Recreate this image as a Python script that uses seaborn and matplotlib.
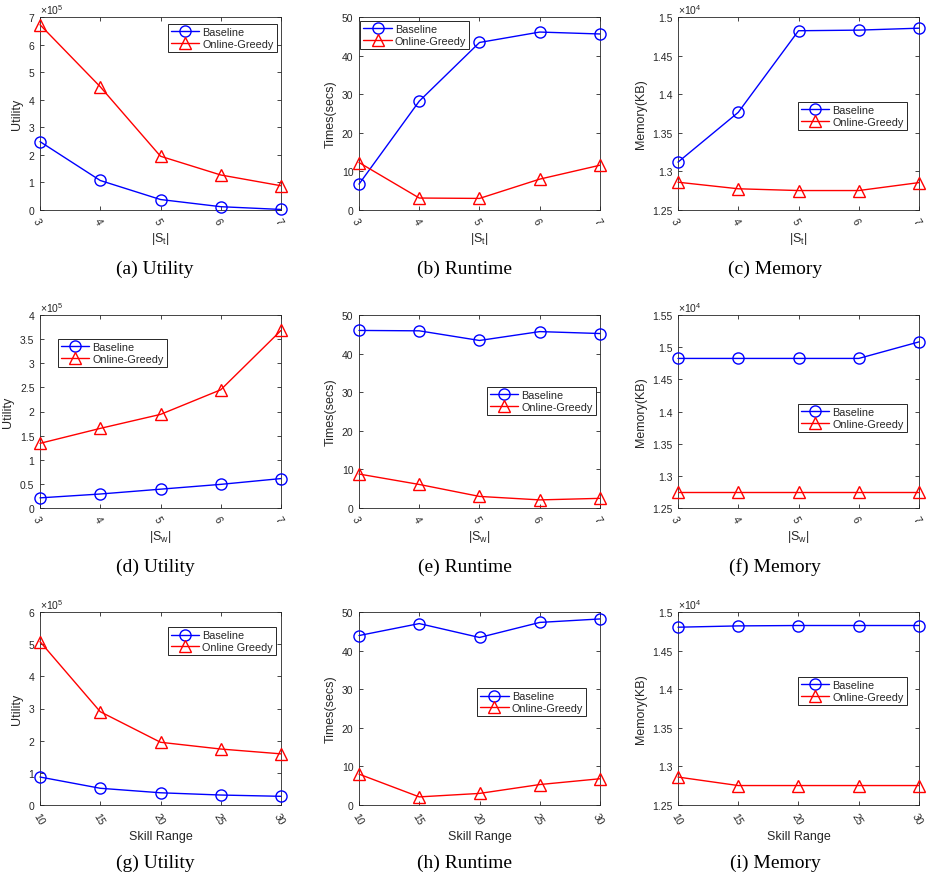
import numpy as np
import pandas as pd
import matplotlib
matplotlib.use("Agg")
import matplotlib.pyplot as plt
import seaborn as sns
from matplotlib.ticker import FuncFormatter, FixedLocator

# ---------------- data ----------------
x_st = [3, 4, 5, 6, 7]
x_sw = [3, 4, 5, 6, 7]
x_skill = [10, 15, 20, 25, 30]

# Row 1 : |S_t|
util_st_base = [2.48e5, 1.07e5, 0.38e5, 0.12e5, 0.02e5]
util_st_og = [6.72e5, 4.47e5, 1.95e5, 1.27e5, 0.88e5]
time_st_base = [6.7, 28.2, 43.4, 46.1, 45.6]
time_st_og = [12.3, 3.1, 3.0, 8.0, 11.6]
mem_st_base = [13120, 13765, 14822, 14830, 14855]
mem_st_og = [12860, 12775, 12752, 12752, 12855]

# Row 2 : |S_w|
util_sw_base = [0.21e5, 0.29e5, 0.39e5, 0.49e5, 0.61e5]
util_sw_og = [1.34e5, 1.65e5, 1.94e5, 2.45e5, 3.68e5]
time_sw_base = [46.0, 45.9, 43.4, 45.7, 45.2]
time_sw_og = [8.8, 6.1, 3.0, 2.1, 2.5]
mem_sw_base = [14825, 14825, 14825, 14825, 15082]
mem_sw_og = [12755, 12755, 12755, 12755, 12755]

# Row 3 : Skill range
util_sk_base = [0.87e5, 0.52e5, 0.38e5, 0.31e5, 0.27e5]
util_sk_og = [5.08e5, 2.90e5, 1.95e5, 1.74e5, 1.59e5]
time_sk_base = [43.9, 47.0, 43.4, 47.3, 48.2]
time_sk_og = [8.0, 2.1, 3.0, 5.3, 6.8]
mem_sk_base = [14803, 14820, 14825, 14825, 14825]
mem_sk_og = [12862, 12752, 12752, 12752, 12752]

methods = ["Baseline", "Online-Greedy"]
methods_g = ["Baseline", "Online Greedy"]

captions = ["(a) Utility", "(b) Runtime", "(c) Memory",
            "(d) Utility", "(e) Runtime", "(f) Memory",
            "(g) Utility", "(h) Runtime", "(i) Memory"]
ylabels = ["Utility", "Times(secs)", "Memory(KB)"]
xlabels = [r"|S$_{\mathregular{t}}$|", r"|S$_{\mathregular{w}}$|", "Skill Range"]

# ---------------- style ----------------
sns.set_style("ticks")
plt.rcParams["font.family"] = ["Liberation Sans", "DejaVu Sans"]
plt.rcParams["mathtext.fontset"] = "custom"
plt.rcParams["mathtext.rm"] = "Liberation Sans"
plt.rcParams["mathtext.it"] = "Liberation Sans:italic"

W, H = 929, 879
fig = plt.figure(figsize=(W / 100, H / 100), dpi=100)

lefts = [40, 359, 678]
tops = [18, 316, 613]
aw, ah = 241, 193

panels = [
    # (x, base, og, row, col, ylim, yticks, scale, legend anchor)
    (x_st, util_st_base, util_st_og, 0, 0, (0, 7e5), np.arange(0, 8) * 1e5, 5, (0.53, 0.965)),
    (x_st, time_st_base, time_st_og, 0, 1, (0, 50), np.arange(0, 51, 10), None, (0.005, 0.98)),
    (x_st, mem_st_base, mem_st_og, 0, 2, (12500, 15000), np.arange(12500, 15001, 500), 4, (0.496, 0.56)),
    (x_sw, util_sw_base, util_sw_og, 1, 0, (0, 4e5), np.arange(0, 4.01, 0.5) * 1e5, 5, (0.074, 0.876)),
    (x_sw, time_sw_base, time_sw_og, 1, 1, (0, 50), np.arange(0, 51, 10), None, (0.53, 0.627)),
    (x_sw, mem_sw_base, mem_sw_og, 1, 2, (12500, 15500), np.arange(12500, 15501, 500), 4, (0.496, 0.539)),
    (x_skill, util_sk_base, util_sk_og, 2, 0, (0, 6e5), np.arange(0, 7) * 1e5, 5, (0.53, 0.922)),
    (x_skill, time_sk_base, time_sk_og, 2, 1, (0, 50), np.arange(0, 51, 10), None, (0.49, 0.606)),
    (x_skill, mem_sk_base, mem_sk_og, 2, 2, (12500, 15000), np.arange(12500, 15001, 500), 4, (0.496, 0.663)),
]

for i, (xs, base, og, r, c, ylim, yticks, scale, lanchor) in enumerate(panels):
    labs = methods_g if i == 6 else methods
    df = pd.DataFrame({
        "x": list(xs) * 2,
        "y": list(base) + list(og),
        "method": [labs[0]] * len(xs) + [labs[1]] * len(xs),
    })
    rect = [lefts[c] / W, 1 - (tops[r] + ah) / H, aw / W, ah / H]
    ax = fig.add_axes(rect)
    sns.lineplot(data=df, x="x", y="y", hue="method", style="method",
                 palette={labs[0]: "#0000ff", labs[1]: "#ff0000"},
                 markers={labs[0]: "o", labs[1]: "^"},
                 dashes={labs[0]: "", labs[1]: ""},
                 markersize=8, markerfacecolor="none", markeredgewidth=1.0,
                 linewidth=1.0, ax=ax)
    for ln in ax.get_lines():
        ln.set_markerfacecolor("none")
        ln.set_markeredgecolor(ln.get_color())
        ln.set_clip_on(False)
        ln.set_zorder(3)
    ax.set_xlim(xs[0], xs[-1])
    ax.set_ylim(*ylim)
    ax.xaxis.set_major_locator(FixedLocator(xs))
    ax.yaxis.set_major_locator(FixedLocator(yticks))
    if scale is not None:
        ax.yaxis.set_major_formatter(FuncFormatter(lambda v, p, s=scale: f"{v / 10**s:g}"))
        ax.text(0.0, 1.005, r"$\times\mathregular{10}^{%d}$" % scale, transform=ax.transAxes,
                ha="left", va="bottom", fontsize=7.5, color="#262626")
    else:
        ax.yaxis.set_major_formatter(FuncFormatter(lambda v, p: f"{v:g}"))
    ax.tick_params(direction="in", top=True, right=True, length=3, width=0.6,
                   labelsize=7.5, colors="#262626", pad=4)
    for lab in ax.get_xticklabels():
        lab.set_rotation(-60)
        lab.set_ha("left")
        lab.set_va("top")
        lab.set_rotation_mode("anchor")
    for sp in ax.spines.values():
        sp.set_linewidth(0.6)
        sp.set_color("#262626")
    ax.set_xlabel(xlabels[r], fontsize=9, color="#262626", labelpad=3)
    ax.set_ylabel(ylabels[c], fontsize=9, color="#262626", labelpad=4)
    leg = ax.legend(loc="upper left", bbox_to_anchor=lanchor, borderaxespad=0,
                    fontsize=7.8, handlelength=2.6, handletextpad=0.3,
                    borderpad=0.3, labelspacing=0.15, fancybox=False,
                    framealpha=1, edgecolor="#262626")
    leg.get_frame().set_linewidth(0.7)
    leg.set_zorder(5)
    ax.set_title("")

cap_x = [155, 465, 775]
cap_y = [269, 567, 863]
for i, cap in enumerate(captions):
    r, c = divmod(i, 3)
    fig.text(cap_x[c] / W, 1 - cap_y[r] / H, cap, ha="center", va="center",
             fontsize=14, family="Liberation Serif", color="black")

fig.savefig("out.png", dpi=100)
